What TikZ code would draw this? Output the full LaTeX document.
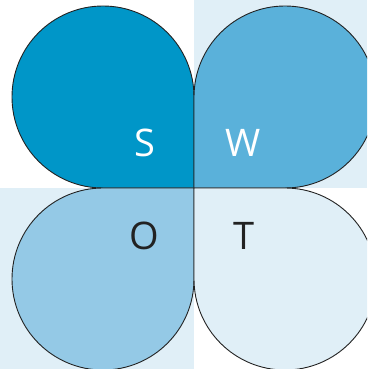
\documentclass[tikz,border=0pt]{standalone}
\usepackage{fontspec}
\setmainfont{Open Sans}
\definecolor{cS}{HTML}{0096C8}
\definecolor{cW}{HTML}{5AB1DA}
\definecolor{cO}{HTML}{94C9E6}
\definecolor{cT}{HTML}{E0EFF7}
\definecolor{edge}{HTML}{222222}
\begin{document}
\begin{tikzpicture}[x=1pt,y=1pt,
  petal/.style={draw=edge,line width=0.9pt,line join=round},
  lbl/.style={font=\fontsize{38}{38}\selectfont,inner sep=0pt,anchor=center}]
\useasboundingbox (0,0) rectangle (367,369);
\clip (0,0) rectangle (367,369);
\fill[cT] (194,181) rectangle (367,369);
\fill[cT] (0,0) rectangle (194,181);
% S
\path[petal,fill=cS] (194,181) -- (194,272) arc[start angle=0,end angle=270,radius=91] -- cycle;
% W
\path[petal,fill=cW] (194,181) -- (194,272) arc[start angle=180,end angle=-90,radius=91] -- cycle;
% O
\path[petal,fill=cO] (194,181) -- (103,181) arc[start angle=90,end angle=360,radius=91] -- cycle;
% T
\path[petal,fill=cT] (194,181) -- (285,181) arc[start angle=90,end angle=-180,radius=91] -- cycle;
\node[lbl,text=white] (s) at (145,226.5) {S};
\node[lbl,text=white] (w) at (243,226.5) {W};
\node[lbl,text=edge] (o) at (144.5,133) {O};
\node[lbl,text=edge] (t) at (244,133) {T};
\end{tikzpicture}
\end{document}
